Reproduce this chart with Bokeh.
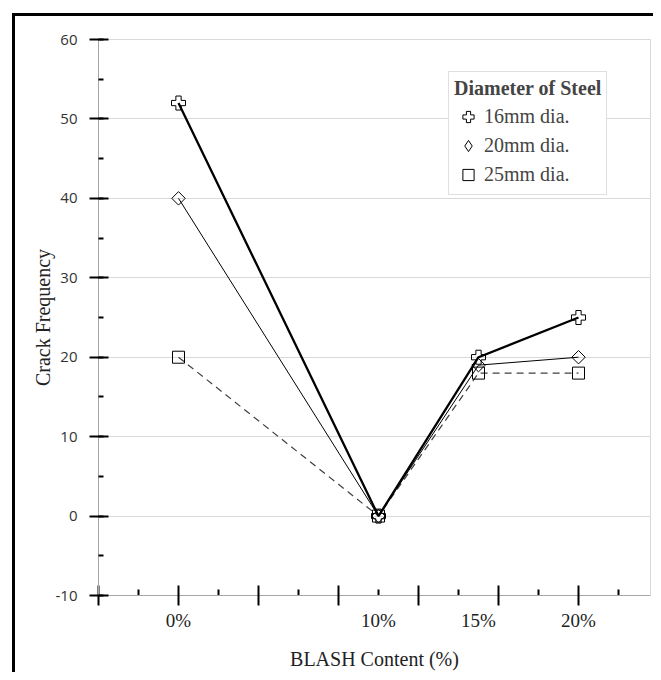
from bokeh.plotting import figure
from bokeh.models import (Range1d, SingleIntervalTicker, FixedTicker, Legend, LegendItem)
from bokeh.embed import file_html
from bokeh.resources import INLINE

# ---- data ----
content = [0, 10, 15, 20]
content_labels = ["0%", "10%", "15%", "20%"]
d16 = [52, 0, 20, 25]
d20 = [40, 0, 19, 20]
d25 = [20, 0, 18, 18]
series_names = ["16mm dia.", "20mm dia.", "25mm dia."]
legend_title = "Diameter of Steel"
x_title = "BLASH Content (%)"
y_title = "Crack Frequency"

# axis tick-mark positions (style, not data)
x_major_marks = list(range(-4, 25, 4))
x_small_marks = list(range(-2, 24, 4))

SERIF = "Liberation Serif"
Y0, Y1 = -10, 60
FRAME_H = 558

p = figure(width=653, height=672, output_backend="svg", toolbar_location=None,
           x_range=Range1d(-4, 23.6), y_range=Range1d(Y0, Y1),
           min_border_left=98, min_border_right=3, min_border_top=39,
           min_border_bottom=75, background_fill_color="white",
           border_fill_color=None, outline_line_color="#d9d9d9")
# thick black chart border (left and top edges visible in the window)
p.styles = {"background": "linear-gradient(black, black) 12px 13px / 3px 100% no-repeat, "
                          "linear-gradient(black, black) 12px 13px / 100% 3px no-repeat"}

# x axis: label ticks at the data categories, tick marks drawn as minor ticks
p.xaxis.ticker = FixedTicker(ticks=content, minor_ticks=x_major_marks)
p.xaxis.major_label_overrides = {c: t for c, t in zip(content, content_labels)}
p.xaxis.major_tick_in = 0
p.xaxis.major_tick_out = 0
p.xaxis.major_tick_line_color = None
p.xaxis.minor_tick_in = 10
p.xaxis.minor_tick_out = 10
p.xaxis.minor_tick_line_color = "black"
p.xaxis.minor_tick_line_width = 2
p.xaxis.axis_line_color = "#a6a6a6"
p.xaxis.major_label_text_font = SERIF
p.xaxis.major_label_text_font_size = "19px"
p.xaxis.major_label_text_color = "#222222"
p.xaxis.major_label_standoff = 4
p.xaxis.axis_label = x_title
p.xaxis.axis_label_text_font = SERIF
p.xaxis.axis_label_text_font_style = "normal"
p.xaxis.axis_label_text_font_size = "20px"
p.xaxis.axis_label_text_color = "#222222"
p.xaxis.axis_label_standoff = 14

# y axis
p.yaxis.ticker = SingleIntervalTicker(interval=10, num_minor_ticks=2)
p.yaxis.major_label_overrides = {-10: "-10"}
p.yaxis.axis_line_color = "#a6a6a6"
p.yaxis.major_tick_line_color = "black"
p.yaxis.minor_tick_line_color = "black"
p.yaxis.major_tick_line_width = 2
p.yaxis.minor_tick_line_width = 2
p.yaxis.major_tick_in = 10
p.yaxis.major_tick_out = 9
p.yaxis.minor_tick_in = 5
p.yaxis.minor_tick_out = 0
p.yaxis.major_label_text_font = "Open Sans"
p.yaxis.major_label_text_font_size = "15px"
p.yaxis.major_label_text_color = "#333333"
p.yaxis.major_label_standoff = 12
p.yaxis.axis_label = y_title
p.yaxis.axis_label_text_font = SERIF
p.yaxis.axis_label_text_font_style = "normal"
p.yaxis.axis_label_text_font_size = "20px"
p.yaxis.axis_label_text_color = "#222222"
p.yaxis.axis_label_standoff = -1

p.xgrid.grid_line_color = None
p.ygrid.grid_line_color = "#d9d9d9"
p.ygrid.grid_line_width = 1

# small inward x tick marks (6 px) between the major marks
small_len = 6 * (Y1 - Y0) / FRAME_H
p.segment(x0=x_small_marks, y0=[Y0] * len(x_small_marks),
          x1=x_small_marks, y1=[Y0 + small_len] * len(x_small_marks),
          line_color="black", line_width=2)

# lines
p.line(content, d25, line_color="#404040", line_width=1.2, line_dash="7 5")
p.line(content, d20, line_color="black", line_width=1)
p.line(content, d16, line_color="black", line_width=2.3)

# markers (hollow)
s16 = p.scatter(content, d16, marker="plus", size=14, fill_color=None,
                line_color="black", line_width=1)
s20 = p.scatter(content, d20, marker="square", angle=0.7853981634, size=9.5,
                fill_color=None, line_color="black", line_width=1)
s25 = p.scatter(content, d25, marker="square", size=12, fill_color=None,
                line_color="black", line_width=1)
# legend-only glyph for the diamond (drawn outside the visible range)
s20_leg = p.scatter([-100], [-100], marker="diamond", size=12, fill_color=None,
                    line_color="black", line_width=1)

legend = Legend(items=[LegendItem(label=series_names[0], renderers=[s16]),
                       LegendItem(label=series_names[1], renderers=[s20_leg]),
                       LegendItem(label=series_names[2], renderers=[s25])],
                location=(350, 400), title=legend_title,
                title_text_font=SERIF, title_text_font_style="bold",
                title_text_font_size="20px", title_standoff=2,
                label_text_font=SERIF, label_text_font_size="20px",
                glyph_width=28, glyph_height=29, label_height=29,
                spacing=0, padding=5, label_standoff=2, margin=0,
                border_line_color="#bfbfbf", border_line_width=1,
                background_fill_color="white", background_fill_alpha=1)
p.add_layout(legend)

open("out.html", "w").write(file_html(p, INLINE))
